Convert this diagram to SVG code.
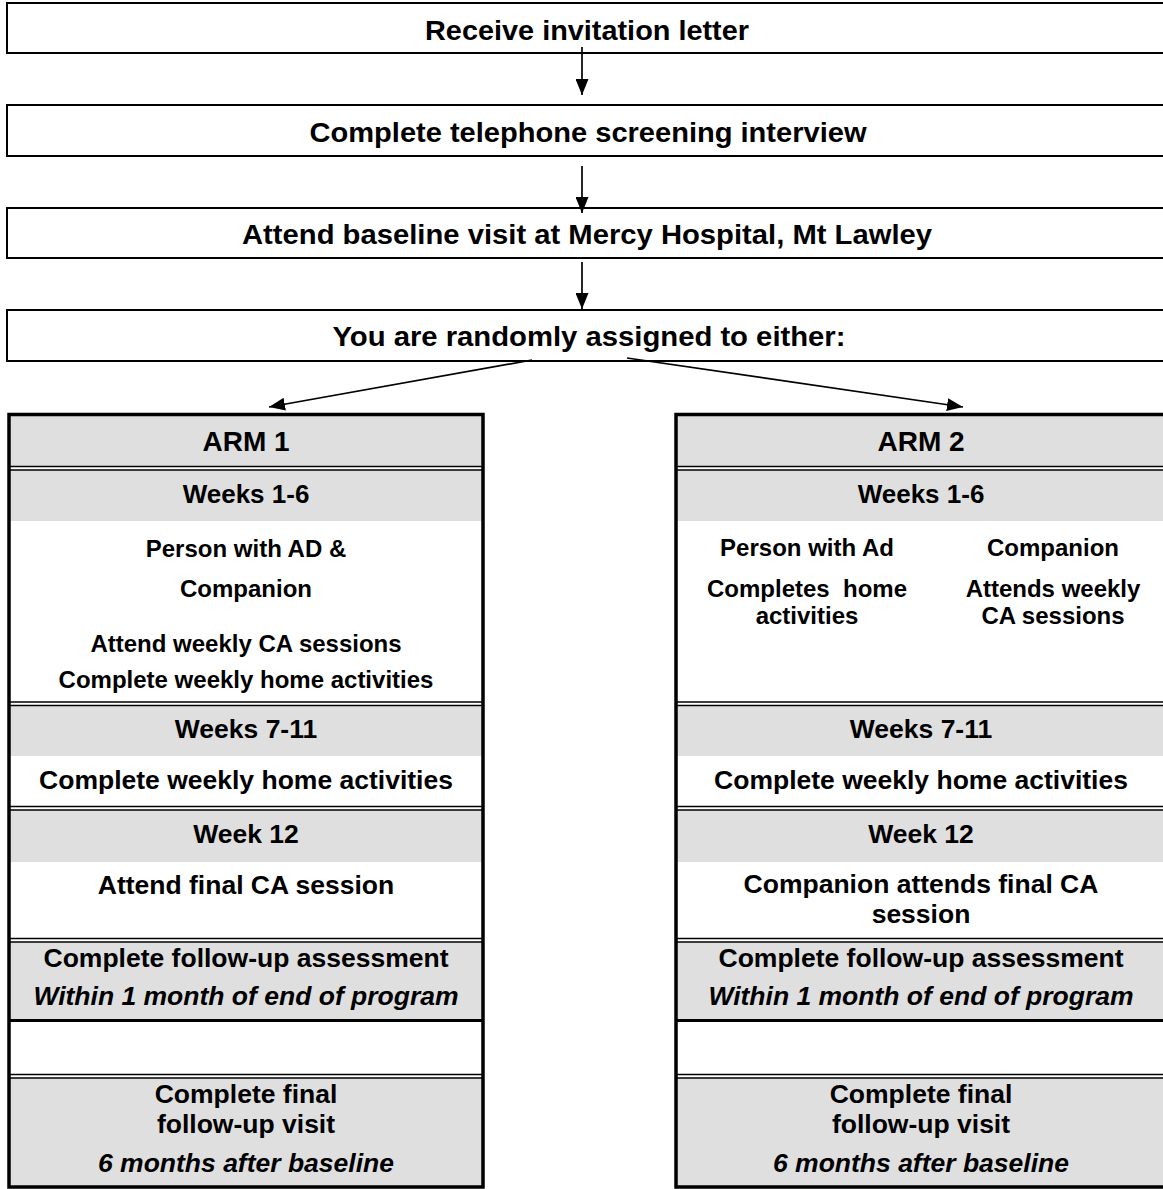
<svg xmlns="http://www.w3.org/2000/svg" width="1163" height="1189" viewBox="0 0 1163 1189">
<style>
text{font-family:"Liberation Sans",Arial,sans-serif;font-weight:bold;fill:#000;text-anchor:middle}
.top{font-size:28px}
.arm{font-size:28px}
.h{font-size:26px}
.m{font-size:26.5px}
.s{font-size:24px}
.i{font-style:italic}
.box{fill:#fff;stroke:#000;stroke-width:2}
.g{fill:#dfdfdf}
.w{fill:#fff}
.thin{stroke:#000;stroke-width:1.3}
.thick{stroke:#000;stroke-width:3}
.outer{fill:none;stroke:#000;stroke-width:3.5}
.conn{stroke:#000;stroke-width:1.7;fill:none}
</style>
<defs>
<marker id="ah" viewBox="0 0 16 13" refX="16" refY="6.5" markerWidth="16" markerHeight="13" markerUnits="userSpaceOnUse" orient="auto">
<path d="M0,0 L16,6.5 L0,13 Z" fill="#000"/>
</marker>
</defs>
<rect width="1163" height="1189" fill="#fff"/>

<g id="n1"><rect class="box" x="7" y="3" width="1170" height="50"/>
<text class="top" x="587" y="40" textLength="324" lengthAdjust="spacingAndGlyphs">Receive invitation letter</text></g>
<g id="n2"><rect class="box" x="7" y="105" width="1170" height="51"/>
<text class="top" x="588" y="142" textLength="557" lengthAdjust="spacingAndGlyphs">Complete telephone screening interview</text></g>
<g id="n3"><rect class="box" x="7" y="208" width="1170" height="50"/>
<text class="top" x="587" y="244" textLength="690" lengthAdjust="spacingAndGlyphs">Attend baseline visit at Mercy Hospital, Mt Lawley</text></g>
<g id="n4"><rect class="box" x="7" y="310" width="1170" height="51"/>
<text class="top" x="589" y="346" textLength="513" lengthAdjust="spacingAndGlyphs">You are randomly assigned to either:</text></g>

<g id="connectors">
<line class="conn" x1="582" y1="47" x2="582" y2="95" marker-end="url(#ah)"/>
<line class="conn" x1="582" y1="166" x2="582" y2="213" marker-end="url(#ah)"/>
<line class="conn" x1="582" y1="262" x2="582" y2="309" marker-end="url(#ah)"/>
<line class="conn" x1="532" y1="360" x2="269" y2="407" marker-end="url(#ah)"/>
<line class="conn" x1="627" y1="358" x2="963" y2="407" marker-end="url(#ah)"/>
</g>

<g id="arm1">
<rect class="g" x="9" y="415" width="474" height="51"/>
<rect class="g" x="9" y="470" width="474" height="51"/>
<rect class="w" x="9" y="521" width="474" height="181"/>
<rect class="g" x="9" y="705" width="474" height="51"/>
<rect class="w" x="9" y="756" width="474" height="50"/>
<rect class="g" x="9" y="810" width="474" height="52"/>
<rect class="w" x="9" y="862" width="474" height="76"/>
<rect class="g" x="9" y="942" width="474" height="77"/>
<rect class="w" x="9" y="1022" width="474" height="52"/>
<rect class="g" x="9" y="1078" width="474" height="109"/>
<line class="thin" x1="9" y1="466.5" x2="483" y2="466.5"/><line class="thin" x1="9" y1="470" x2="483" y2="470"/>
<line class="thin" x1="9" y1="702" x2="483" y2="702"/><line class="thin" x1="9" y1="705.5" x2="483" y2="705.5"/>
<line class="thin" x1="9" y1="806.5" x2="483" y2="806.5"/><line class="thin" x1="9" y1="810" x2="483" y2="810"/>
<line class="thin" x1="9" y1="938.5" x2="483" y2="938.5"/><line class="thin" x1="9" y1="942" x2="483" y2="942"/>
<line class="thick" x1="9" y1="1020.5" x2="483" y2="1020.5"/>
<line class="thin" x1="9" y1="1074.5" x2="483" y2="1074.5"/><line class="thin" x1="9" y1="1078" x2="483" y2="1078"/>
<rect class="outer" x="9" y="414.5" width="474" height="772.5"/>
<text class="arm" x="246" y="451">ARM 1</text>
<text class="h" x="246" y="503">Weeks 1-6</text>
<text class="s" x="246" y="557">Person with AD &amp;</text>
<text class="s" x="246" y="597">Companion</text>
<text class="s" x="246" y="652">Attend weekly CA sessions</text>
<text class="s" x="246" y="688">Complete weekly home activities</text>
<text class="m" x="246" y="738">Weeks 7-11</text>
<text class="m" x="246" y="789">Complete weekly home activities</text>
<text class="m" x="246" y="843">Week 12</text>
<text class="m" x="246" y="894">Attend final CA session</text>
<text class="m" x="246" y="967">Complete follow-up assessment</text>
<text class="m i" x="246" y="1005">Within 1 month of end of program</text>
<text class="m" x="246" y="1103">Complete final</text>
<text class="m" x="246" y="1133">follow-up visit</text>
<text class="m i" x="246" y="1172">6 months after baseline</text>
</g>

<g id="arm2">
<rect class="g" x="676" y="415" width="500" height="51"/>
<rect class="g" x="676" y="470" width="500" height="51"/>
<rect class="w" x="676" y="521" width="500" height="181"/>
<rect class="g" x="676" y="705" width="500" height="51"/>
<rect class="w" x="676" y="756" width="500" height="50"/>
<rect class="g" x="676" y="810" width="500" height="52"/>
<rect class="w" x="676" y="862" width="500" height="76"/>
<rect class="g" x="676" y="942" width="500" height="77"/>
<rect class="w" x="676" y="1022" width="500" height="52"/>
<rect class="g" x="676" y="1078" width="500" height="109"/>
<line class="thin" x1="676" y1="466.5" x2="1176" y2="466.5"/><line class="thin" x1="676" y1="470" x2="1176" y2="470"/>
<line class="thin" x1="676" y1="702" x2="1176" y2="702"/><line class="thin" x1="676" y1="705.5" x2="1176" y2="705.5"/>
<line class="thin" x1="676" y1="806.5" x2="1176" y2="806.5"/><line class="thin" x1="676" y1="810" x2="1176" y2="810"/>
<line class="thin" x1="676" y1="938.5" x2="1176" y2="938.5"/><line class="thin" x1="676" y1="942" x2="1176" y2="942"/>
<line class="thick" x1="676" y1="1020.5" x2="1176" y2="1020.5"/>
<line class="thin" x1="676" y1="1074.5" x2="1176" y2="1074.5"/><line class="thin" x1="676" y1="1078" x2="1176" y2="1078"/>
<rect class="outer" x="676" y="414.5" width="500" height="772.5"/>
<text class="arm" x="921" y="451">ARM 2</text>
<text class="h" x="921" y="503">Weeks 1-6</text>
<text class="s" x="807" y="556">Person with Ad</text>
<text class="s" x="807" y="597" style="white-space:pre">Completes  home</text>
<text class="s" x="807" y="624">activities</text>
<text class="s" x="1053" y="556">Companion</text>
<text class="s" x="1053" y="597">Attends weekly</text>
<text class="s" x="1053" y="624">CA sessions</text>
<text class="m" x="921" y="738">Weeks 7-11</text>
<text class="m" x="921" y="789">Complete weekly home activities</text>
<text class="m" x="921" y="843">Week 12</text>
<text class="m" x="921" y="893">Companion attends final CA</text>
<text class="m" x="921" y="923">session</text>
<text class="m" x="921" y="967">Complete follow-up assessment</text>
<text class="m i" x="921" y="1005">Within 1 month of end of program</text>
<text class="m" x="921" y="1103">Complete final</text>
<text class="m" x="921" y="1133">follow-up visit</text>
<text class="m i" x="921" y="1172">6 months after baseline</text>
</g>
</svg>
